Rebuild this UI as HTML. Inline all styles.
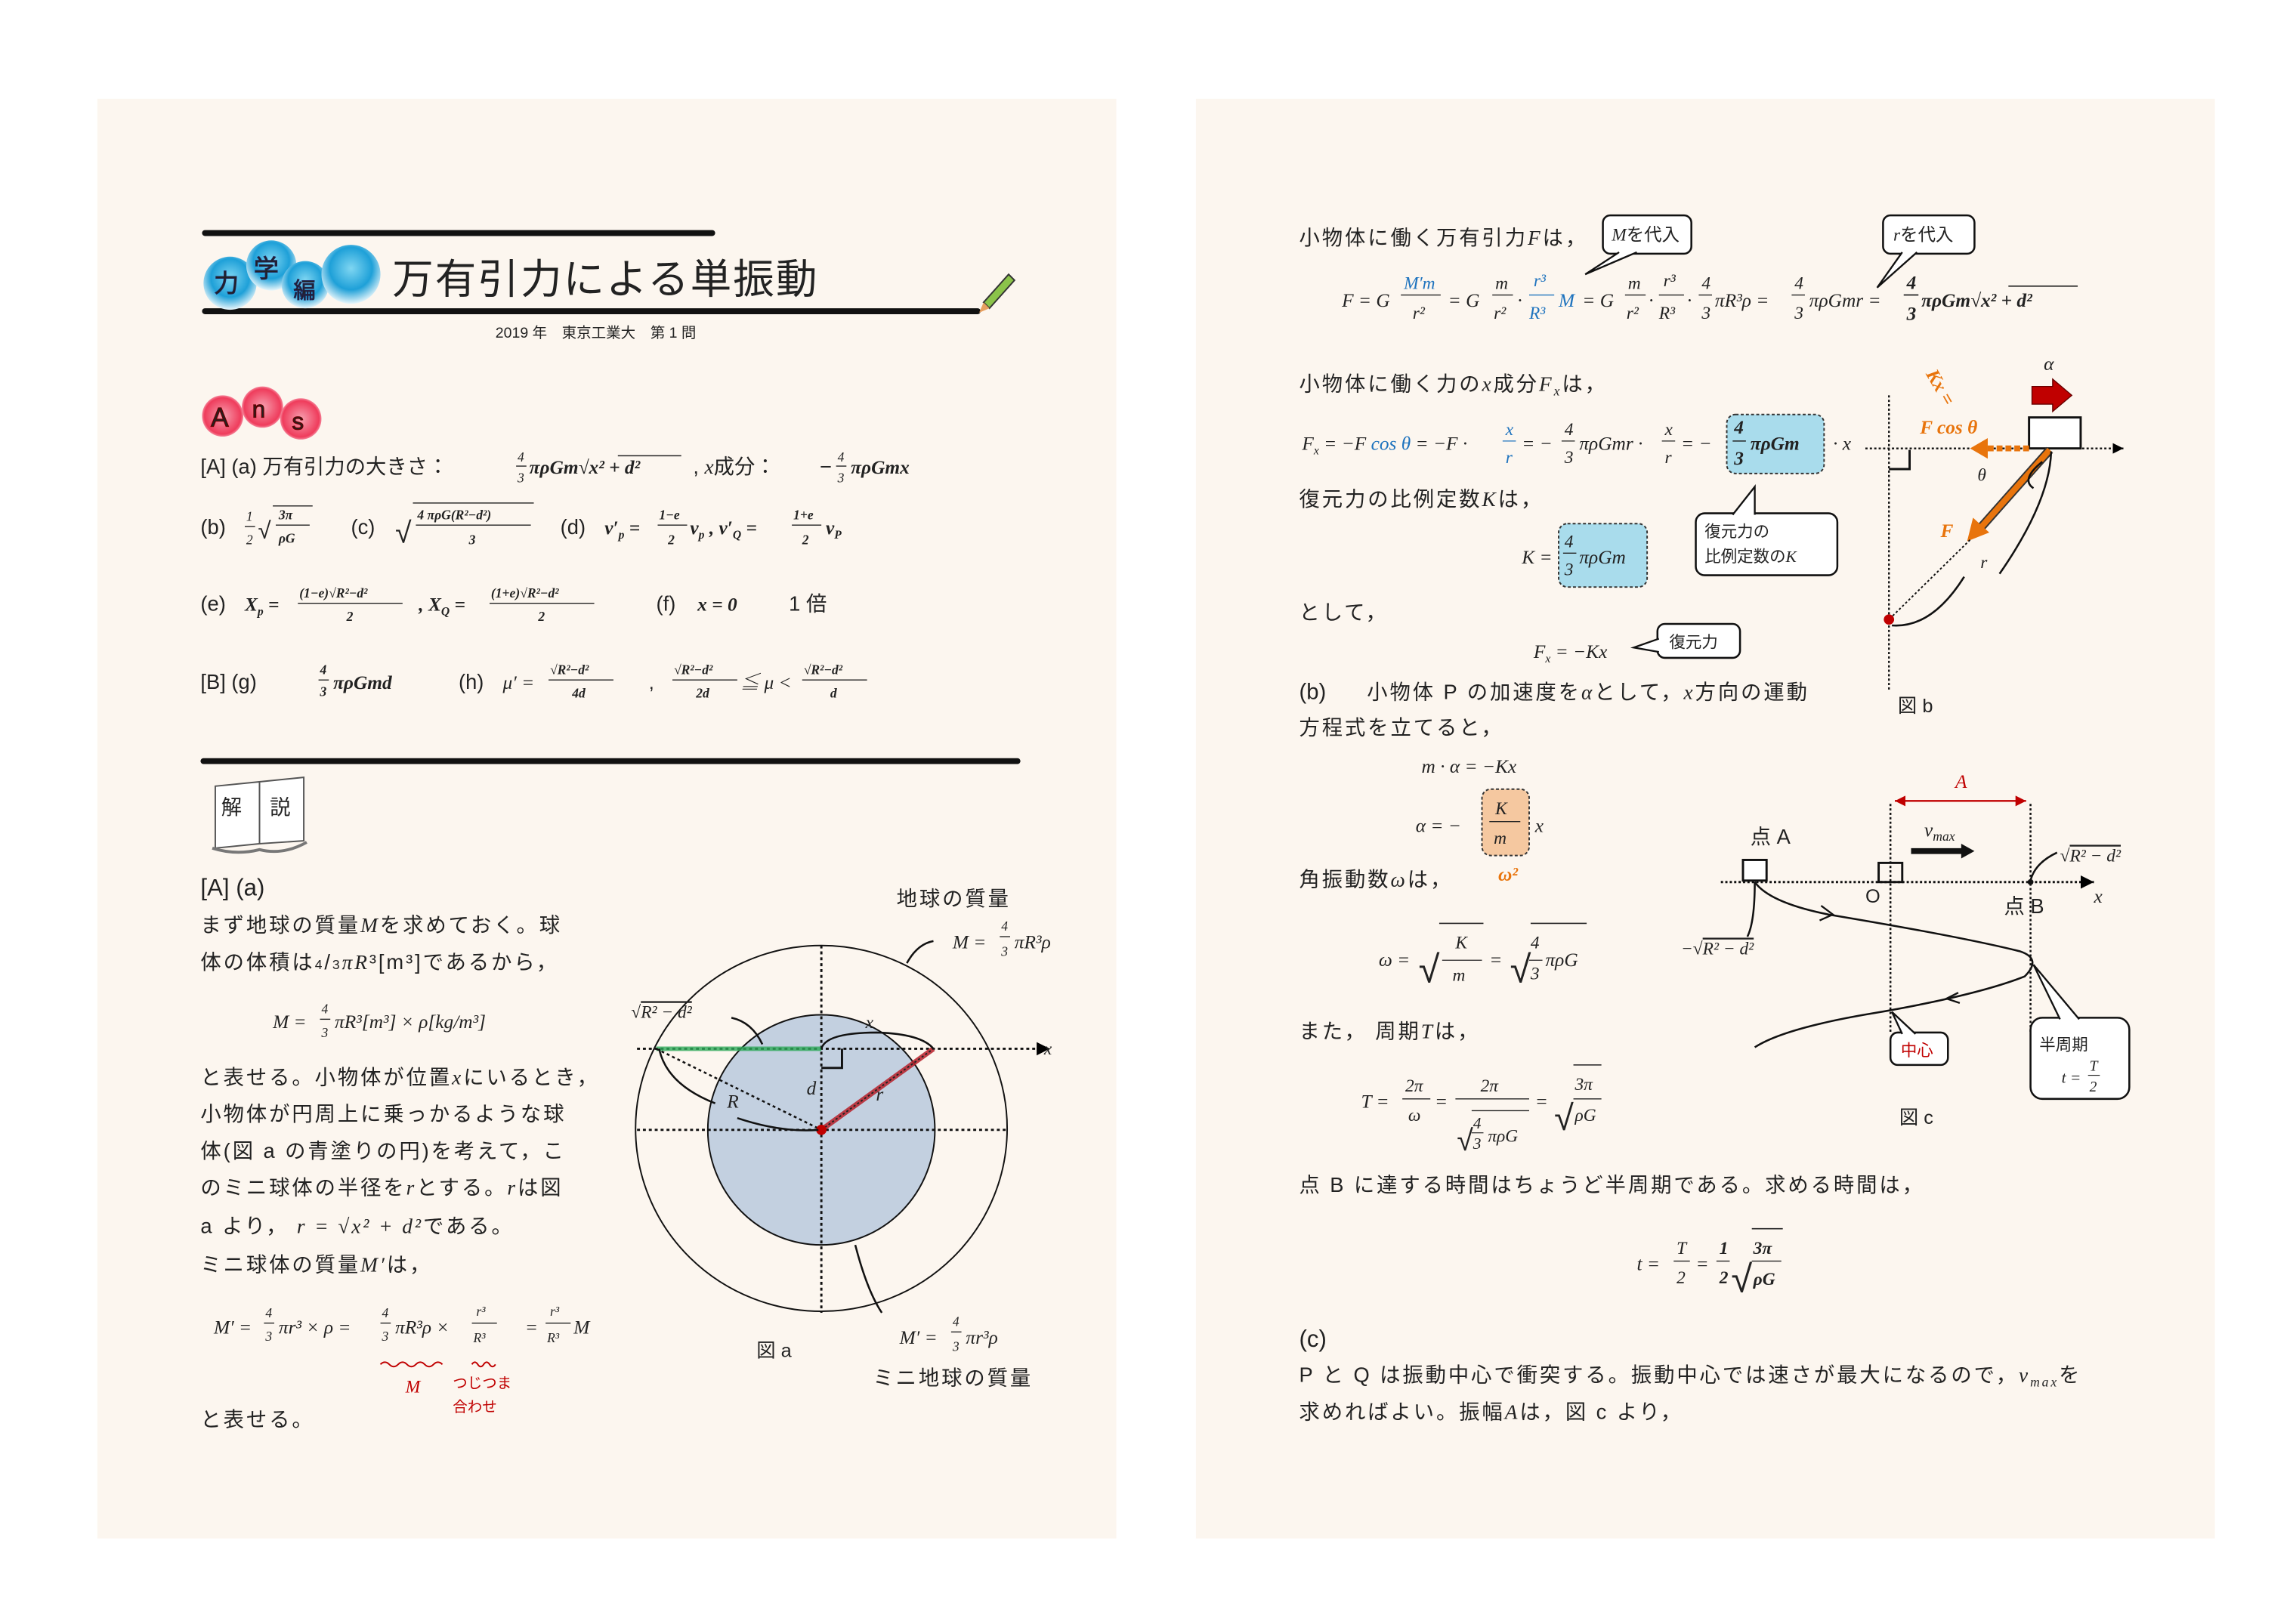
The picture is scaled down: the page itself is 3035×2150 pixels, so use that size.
<!DOCTYPE html>
<html><head><meta charset="utf-8">
<style>
html,body{margin:0;padding:0;background:#fff;}
svg{display:block;}
text{font-family:"Liberation Sans","Noto Sans CJK JP",sans-serif;fill:#222;}
.m{font-family:"Liberation Serif","Noto Serif CJK SC",serif;font-style:italic;}
.b{font-weight:bold;}
.j{font-size:14px;letter-spacing:1.5px;}
.s{font-size:9px;}
.bl{fill:#1e73be;}
.or{fill:#e8740c;}
.rd{fill:#c00000;}
</style></head>
<body>
<svg width="3035" height="2150" viewBox="0 0 1555 1101" preserveAspectRatio="none" xmlns="http://www.w3.org/2000/svg">
<defs>
<radialGradient id="gb" cx="50%" cy="40%" r="60%"><stop offset="0" stop-color="#7fd6f2"/><stop offset="0.6" stop-color="#1ea0d8"/><stop offset="1" stop-color="#e8f6fb"/></radialGradient>
<radialGradient id="gp" cx="50%" cy="50%" r="55%"><stop offset="0" stop-color="#f7a0b0"/><stop offset="0.8" stop-color="#ef3c5c"/><stop offset="1" stop-color="#f9c0cc"/></radialGradient>
<marker id="ar" markerWidth="8" markerHeight="8" refX="6" refY="3" orient="auto"><path d="M0,0 L6,3 L0,6z" fill="#000"/></marker>
<marker id="arr" markerWidth="8" markerHeight="8" refX="6" refY="3" orient="auto-start-reverse"><path d="M0,0 L6,3 L0,6z" fill="#c00000"/></marker>
</defs>
<rect width="1555" height="1101" fill="#fff"/>
<rect x="66" y="67" width="691" height="976" fill="#fcf6ef"/>
<rect x="811" y="67" width="691" height="976" fill="#fcf6ef"/>

<!-- title -->
<rect x="137" y="156" width="348" height="4" rx="2" fill="#111"/>
<rect x="137" y="209" width="528" height="4" rx="2" fill="#111"/>
<circle cx="156" cy="192" r="18" fill="url(#gb)"/>
<circle cx="184" cy="180" r="17" fill="url(#gb)"/>
<circle cx="207" cy="193" r="16" fill="url(#gb)"/>
<circle cx="238" cy="186" r="20" fill="url(#gb)"/>
<text x="145" y="198" font-size="17" fill="#fff" stroke="#225" stroke-width="0.5">力</text>
<text x="172" y="188" font-size="17" fill="#fff" stroke="#225" stroke-width="0.5">学</text>
<text x="199" y="202" font-size="15" fill="#fff" stroke="#225" stroke-width="0.5">編</text>
<text x="266" y="199" font-size="28" fill="#333" style="letter-spacing:1px">万有引力による単振動</text>
<path d="M667,205 L684,186 L688,190 L671,209 Z" fill="#8bc34a" stroke="#333" stroke-width="1"/>
<path d="M667,205 L664,212 L671,209Z" fill="#e8a060"/>
<text x="336" y="229" font-size="10">2019 年　東京工業大　第 1 問</text>

<!-- Ans -->
<circle cx="151" cy="282" r="14" fill="url(#gp)"/>
<circle cx="178" cy="276" r="14" fill="url(#gp)"/>
<circle cx="204" cy="284" r="14" fill="url(#gp)"/>
<text x="143" y="289" font-size="18" fill="#fff" stroke="#600" stroke-width="0.6">A</text>
<text x="171" y="283" font-size="16" fill="#fff" stroke="#600" stroke-width="0.6">n</text>
<text x="198" y="291" font-size="16" fill="#fff" stroke="#600" stroke-width="0.6">s</text>

<text x="136" y="321" font-size="14">[A]  (a)  万有引力の大きさ：</text>
<text x="351" y="313" class="m s">4</text><line x1="350" y1="316" x2="357" y2="316" stroke="#222" stroke-width="0.7"/><text x="351" y="327" class="m s">3</text>
<text x="359" y="321" class="m b" font-size="13">πρGm√x² + d²</text>
<line x1="419" y1="309" x2="462" y2="309" stroke="#222" stroke-width="0.8"/>
<text x="470" y="321" font-size="14">,  <tspan class="m">x</tspan>成分：</text>
<text x="556" y="321" font-size="14">−</text>
<text x="568" y="313" class="m s">4</text><line x1="567" y1="316" x2="574" y2="316" stroke="#222" stroke-width="0.7"/><text x="568" y="327" class="m s">3</text>
<text x="577" y="321" class="m b" font-size="13">πρGmx</text>

<text x="136" y="362" font-size="14">(b)</text>
<text x="167" y="353" class="m s">1</text><line x1="166" y1="357" x2="173" y2="357" stroke="#222" stroke-width="0.7"/><text x="167" y="369" class="m s">2</text>
<text x="175" y="365" font-size="16">√</text><line x1="185" y1="343" x2="212" y2="343" stroke="#222" stroke-width="0.7"/>
<text x="189" y="352" class="m b s">3π</text><line x1="187" y1="356" x2="210" y2="356" stroke="#222" stroke-width="0.7"/><text x="189" y="368" class="m b s">ρG</text>
<text x="238" y="362" font-size="14">(c)</text>
<text x="268" y="368" font-size="20">√</text><line x1="280" y1="341" x2="362" y2="341" stroke="#222" stroke-width="0.7"/>
<text x="283" y="352" class="m b s">4 πρG(R²−d²)</text><line x1="282" y1="356" x2="360" y2="356" stroke="#222" stroke-width="0.7"/><text x="318" y="369" class="m b s">3</text>
<text x="380" y="362" font-size="14">(d)</text>
<text x="410" y="362" class="m b" font-size="13">v′<tspan font-size="8" dy="3">p</tspan><tspan dy="-3"> = </tspan></text>
<text x="447" y="352" class="m b s">1−e</text><line x1="446" y1="356" x2="466" y2="356" stroke="#222" stroke-width="0.7"/><text x="453" y="369" class="m b s">2</text>
<text x="468" y="362" class="m b" font-size="13">v<tspan font-size="8" dy="3">p</tspan><tspan dy="-3">  ,  v′</tspan><tspan font-size="8" dy="3">Q</tspan><tspan dy="-3"> = </tspan></text>
<text x="538" y="352" class="m b s">1+e</text><line x1="537" y1="356" x2="557" y2="356" stroke="#222" stroke-width="0.7"/><text x="544" y="369" class="m b s">2</text>
<text x="560" y="362" class="m b" font-size="13">v<tspan font-size="8" dy="3">P</tspan></text>

<text x="136" y="414" font-size="14">(e)</text>
<text x="166" y="414" class="m b" font-size="13">X<tspan font-size="8" dy="3">p</tspan><tspan dy="-3"> =</tspan></text>
<text x="203" y="405" class="m b s">(1−e)√R²−d²</text><line x1="202" y1="409" x2="273" y2="409" stroke="#222" stroke-width="0.7"/><text x="235" y="421" class="m b s">2</text>
<text x="284" y="414" class="m b" font-size="13">,  X<tspan font-size="8" dy="3">Q</tspan><tspan dy="-3"> =</tspan></text>
<text x="333" y="405" class="m b s">(1+e)√R²−d²</text><line x1="332" y1="409" x2="403" y2="409" stroke="#222" stroke-width="0.7"/><text x="365" y="421" class="m b s">2</text>
<text x="445" y="414" font-size="14">(f)</text>
<text x="473" y="414" class="m b" font-size="13">x = 0</text>
<text x="535" y="414" font-size="14">1 倍</text>

<text x="136" y="467" font-size="14">[B]    (g)</text>
<text x="217" y="457" class="m b s">4</text><line x1="216" y1="461" x2="223" y2="461" stroke="#222" stroke-width="0.7"/><text x="217" y="472" class="m b s">3</text>
<text x="226" y="467" class="m b" font-size="13">πρGmd</text>
<text x="311" y="467" font-size="14">(h)</text>
<text x="341" y="467" class="m" font-size="13">μ′ =</text>
<text x="373" y="457" class="m b s">√R²−d²</text><line x1="372" y1="461" x2="416" y2="461" stroke="#222" stroke-width="0.7"/><text x="388" y="473" class="m b s">4d</text>
<text x="440" y="467" font-size="13">,</text>
<text x="457" y="457" class="m b s">√R²−d²</text><line x1="456" y1="461" x2="500" y2="461" stroke="#222" stroke-width="0.7"/><text x="472" y="473" class="m b s">2d</text>
<text x="502" y="467" class="m" font-size="13">≦ μ &lt;</text>
<text x="545" y="457" class="m b s">√R²−d²</text><line x1="544" y1="461" x2="588" y2="461" stroke="#222" stroke-width="0.7"/><text x="563" y="473" class="m b s">d</text>

<rect x="136" y="514" width="556" height="4" rx="2" fill="#111"/>

<!-- 解説 book -->
<path d="M146,533 L176,530 L176,572 L146,575Z" fill="#fff" stroke="#555"/>
<path d="M176,530 L206,527 L206,570 L176,572Z" fill="#fff" stroke="#555"/>
<path d="M144,575 Q160,580 176,576 Q192,580 208,571" fill="none" stroke="#777" stroke-width="2"/>
<text x="150" y="552" font-size="14">解</text>
<text x="183" y="552" font-size="14">説</text>

<text x="136" y="607" font-size="16">[A]    (a)</text>
<text x="136" y="632" class="j">まず地球の質量<tspan class="m">M</tspan>を求めておく。球</text>
<text x="136" y="657" class="j">体の体積は<tspan class="s">4</tspan>/<tspan class="s">3</tspan><tspan class="m">πR</tspan>³[m³]であるから，</text>
<text x="185" y="697" class="m" font-size="13">M =</text>
<text x="218" y="687" class="m s">4</text><line x1="217" y1="691" x2="224" y2="691" stroke="#222" stroke-width="0.7"/><text x="218" y="703" class="m s">3</text>
<text x="227" y="697" class="m" font-size="13">πR³[m³] × ρ[kg/m³]</text>
<text x="136" y="735" class="j">と表せる。小物体が位置<tspan class="m">x</tspan>にいるとき，</text>
<text x="136" y="760" class="j">小物体が円周上に乗っかるような球</text>
<text x="136" y="785" class="j">体(図 a の青塗りの円)を考えて，こ</text>
<text x="136" y="810" class="j">のミニ球体の半径を<tspan class="m">r</tspan>とする。<tspan class="m">r</tspan>は図</text>
<text x="136" y="836" class="j">a より，  <tspan class="m">r = √x² + d²</tspan>である。</text>
<text x="136" y="862" class="j">ミニ球体の質量<tspan class="m">M′</tspan>は，</text>
<text x="145" y="904" class="m" font-size="13">M′ =</text>
<text x="180" y="893" class="m s">4</text><line x1="179" y1="897" x2="186" y2="897" stroke="#222" stroke-width="0.7"/><text x="180" y="909" class="m s">3</text>
<text x="189" y="904" class="m" font-size="13">πr³ × ρ =</text>
<text x="259" y="893" class="m s">4</text><line x1="258" y1="897" x2="265" y2="897" stroke="#222" stroke-width="0.7"/><text x="259" y="909" class="m s">3</text>
<text x="268" y="904" class="m" font-size="13">πR³ρ ×</text>
<text x="323" y="892" class="m s">r³</text><line x1="320" y1="897" x2="337" y2="897" stroke="#222" stroke-width="0.7"/><text x="321" y="910" class="m s">R³</text>
<text x="356" y="904" class="m" font-size="13">=</text>
<text x="373" y="892" class="m s">r³</text><line x1="370" y1="897" x2="387" y2="897" stroke="#222" stroke-width="0.7"/><text x="371" y="910" class="m s">R³</text>
<text x="389" y="904" class="m" font-size="13">M</text>
<path d="M258,925 q3,-3 6,0 t6,0 t6,0 t6,0 t6,0 t6,0 t6,0" fill="none" stroke="#c00000" stroke-width="1"/>
<path d="M320,925 q2,-3 4,0 t4,0 t4,0 t4,0" fill="none" stroke="#c00000" stroke-width="1"/>
<text x="275" y="944" class="m rd" font-size="12">M</text>
<text x="307" y="941" font-size="10" class="rd">つじつま</text>
<text x="307" y="957" font-size="10" class="rd">合わせ</text>
<text x="136" y="967" class="j">と表せる。</text>

<!-- figure a -->
<ellipse cx="557" cy="765" rx="126" ry="124" fill="none" stroke="#111" stroke-width="1"/>
<ellipse cx="557" cy="766" rx="77" ry="78" fill="#c3d0e0" stroke="#111" stroke-width="1"/>
<line x1="432" y1="711" x2="712" y2="711" stroke="#111" stroke-width="1.5" stroke-dasharray="2,2" marker-end="url(#ar)"/>
<line x1="432" y1="766" x2="683" y2="766" stroke="#111" stroke-width="1.5" stroke-dasharray="2,2"/>
<line x1="557" y1="641" x2="557" y2="890" stroke="#111" stroke-width="1.5" stroke-dasharray="2,2"/>
<line x1="445" y1="711" x2="557" y2="711" stroke="#2eaa5a" stroke-width="3" opacity="0.8"/>
<line x1="557" y1="766" x2="633" y2="711" stroke="#b8202a" stroke-width="3.5" opacity="0.85"/>
<line x1="557" y1="766" x2="633" y2="711" stroke="#222" stroke-width="1" stroke-dasharray="1.5,1.5"/>
<line x1="445" y1="711" x2="557" y2="766" stroke="#111" stroke-width="1.3" stroke-dasharray="2,2"/>
<path d="M557,724 L571,724 L571,711" fill="none" stroke="#111" stroke-width="1.5"/>
<circle cx="557" cy="766" r="3.5" fill="#c00000"/>
<path d="M557,711 Q560,700 595,700 Q625,701 633,711" fill="none" stroke="#111" stroke-width="1.3"/>
<path d="M447,711 Q452,735 485,748" fill="none" stroke="#111" stroke-width="1.3"/>
<path d="M496,690 Q510,693 517,708" fill="none" stroke="#111" stroke-width="1.3"/>
<path d="M500,758 Q530,768 555,766" fill="none" stroke="#111" stroke-width="1.3"/>
<path d="M615,653 Q622,640 633,638" fill="none" stroke="#111" stroke-width="1.3"/>
<path d="M580,844 Q588,875 598,890" fill="none" stroke="#111" stroke-width="1.3"/>
<text x="428" y="690" class="m" font-size="12">√<tspan text-decoration="overline">R² − d²</tspan></text>
<text x="587" y="697" class="m" font-size="12">x</text>
<text x="547" y="742" class="m" font-size="13">d</text>
<text x="594" y="746" class="m" font-size="13">r</text>
<text x="493" y="751" class="m" font-size="13">R</text>
<text x="708" y="715" class="m" font-size="12">x</text>
<text x="608" y="614" class="j">地球の質量</text>
<text x="646" y="643" class="m" font-size="13">M =</text>
<text x="679" y="631" class="m s">4</text><line x1="678" y1="635" x2="685" y2="635" stroke="#222" stroke-width="0.7"/><text x="679" y="648" class="m s">3</text>
<text x="688" y="643" class="m" font-size="13">πR³ρ</text>
<text x="610" y="911" class="m" font-size="13">M′ =</text>
<text x="646" y="899" class="m s">4</text><line x1="645" y1="903" x2="652" y2="903" stroke="#222" stroke-width="0.7"/><text x="646" y="916" class="m s">3</text>
<text x="655" y="911" class="m" font-size="13">πr³ρ</text>
<text x="513" y="920" font-size="13">図 a</text>
<text x="592" y="939" class="j">ミニ地球の質量</text>

<!-- right page -->
<text x="881" y="166" class="j">小物体に働く万有引力<tspan class="m">F</tspan>は，</text>
<rect x="1087" y="146" width="60" height="26" rx="5" fill="#fff" stroke="#111" stroke-width="1.3"/>
<path d="M1098,171 L1075,186 L1110,171" fill="#fff" stroke="#111" stroke-width="1.2"/>
<text x="1093" y="163" font-size="12"><tspan class="m">M</tspan>を代入</text>
<rect x="1277" y="146" width="62" height="26" rx="5" fill="#fff" stroke="#111" stroke-width="1.3"/>
<path d="M1290,171 L1273,195 L1300,171" fill="#fff" stroke="#111" stroke-width="1.2"/>
<text x="1284" y="163" font-size="12"><tspan class="m">r</tspan>を代入</text>

<g class="m" font-size="13">
<text x="910" y="208" class="m">F = G</text>
<text x="952" y="196" class="m bl" font-size="12">M′m</text><line x1="950" y1="200" x2="977" y2="200" stroke="#222" stroke-width="0.7"/><text x="958" y="216" class="m" font-size="12">r²</text>
<text x="982" y="208" class="m">= G</text>
<text x="1014" y="196" class="m" font-size="12">m</text><line x1="1012" y1="200" x2="1026" y2="200" stroke="#222" stroke-width="0.7"/><text x="1013" y="216" class="m" font-size="12">r²</text>
<text x="1029" y="208" class="m">·</text>
<text x="1040" y="194" class="m bl" font-size="12">r³</text><line x1="1037" y1="200" x2="1054" y2="200" stroke="#1e73be" stroke-width="0.7"/><text x="1037" y="216" class="m bl" font-size="12">R³</text>
<text x="1057" y="208" class="m bl">M</text><text x="1073" y="208" class="m">= G</text>
<text x="1104" y="196" class="m" font-size="12">m</text><line x1="1102" y1="200" x2="1116" y2="200" stroke="#222" stroke-width="0.7"/><text x="1103" y="216" class="m" font-size="12">r²</text>
<text x="1118" y="208" class="m">·</text>
<text x="1128" y="194" class="m" font-size="12">r³</text><line x1="1125" y1="200" x2="1142" y2="200" stroke="#222" stroke-width="0.7"/><text x="1125" y="216" class="m" font-size="12">R³</text>
<text x="1144" y="208" class="m">·</text>
<text x="1154" y="196" class="m" font-size="12">4</text><line x1="1152" y1="200" x2="1161" y2="200" stroke="#222" stroke-width="0.7"/><text x="1154" y="216" class="m" font-size="12">3</text>
<text x="1163" y="208" class="m">πR³ρ =</text>
<text x="1217" y="196" class="m" font-size="12">4</text><line x1="1215" y1="200" x2="1224" y2="200" stroke="#222" stroke-width="0.7"/><text x="1217" y="216" class="m" font-size="12">3</text>
<text x="1227" y="208" class="m">πρGmr =</text>
<text x="1293" y="196" class="m b" font-size="13">4</text><line x1="1291" y1="200" x2="1301" y2="200" stroke="#222" stroke-width="0.9"/><text x="1293" y="217" class="m b" font-size="13">3</text>
<text x="1303" y="208" class="m b">πρGm√x² + d²</text>
<line x1="1362" y1="194" x2="1409" y2="194" stroke="#222" stroke-width="0.8"/>
</g>

<text x="881" y="265" class="j">小物体に働く力の<tspan class="m">x</tspan>成分<tspan class="m">F<tspan font-size="9" dy="3">x</tspan></tspan><tspan dy="-3">は，</tspan></text>
<rect x="1171" y="281" width="66" height="40" rx="6" fill="#a9dcec" stroke="#333" stroke-width="1" stroke-dasharray="2,1.5"/>
<text x="883" y="305" class="m" font-size="13">F<tspan font-size="8" dy="3">x</tspan><tspan dy="-3"> = −F </tspan><tspan class="bl">cos θ</tspan> = −F ·</text>
<text x="1021" y="295" class="m bl" font-size="12">x</text><line x1="1019" y1="299" x2="1028" y2="299" stroke="#1e73be" stroke-width="0.7"/><text x="1021" y="314" class="m bl" font-size="12">r</text>
<text x="1032" y="305" class="m" font-size="13">= −</text>
<text x="1061" y="295" class="m" font-size="12">4</text><line x1="1059" y1="299" x2="1068" y2="299" stroke="#222" stroke-width="0.7"/><text x="1061" y="314" class="m" font-size="12">3</text>
<text x="1071" y="305" class="m" font-size="13">πρGmr ·</text>
<text x="1129" y="295" class="m" font-size="12">x</text><line x1="1127" y1="299" x2="1136" y2="299" stroke="#222" stroke-width="0.7"/><text x="1129" y="314" class="m" font-size="12">r</text>
<text x="1140" y="305" class="m" font-size="13">= −</text>
<text x="1176" y="294" class="m b" font-size="13">4</text><line x1="1175" y1="299" x2="1184" y2="299" stroke="#222" stroke-width="0.8"/><text x="1176" y="315" class="m b" font-size="13">3</text>
<text x="1187" y="305" class="m b" font-size="13">πρGm</text>
<text x="1243" y="305" class="m" font-size="13">· x</text>

<text x="881" y="343" class="j">復元力の比例定数<tspan class="m">K</tspan>は，</text>
<rect x="1057" y="355" width="60" height="43" rx="6" fill="#a9dcec" stroke="#333" stroke-width="1" stroke-dasharray="2,1.5"/>
<text x="1032" y="382" class="m" font-size="13">K =</text>
<text x="1061" y="371" class="m" font-size="12">4</text><line x1="1060" y1="375" x2="1069" y2="375" stroke="#222" stroke-width="0.7"/><text x="1061" y="390" class="m" font-size="12">3</text>
<text x="1071" y="382" class="m" font-size="13">πρGm</text>
<rect x="1150" y="348" width="96" height="42" rx="6" fill="#fff" stroke="#111" stroke-width="1.3"/>
<path d="M1175,349 L1190,330 L1190,349" fill="#fff" stroke="#111" stroke-width="1.2"/>
<text x="1156" y="364" font-size="11">復元力の</text>
<text x="1156" y="381" font-size="11">比例定数の<tspan class="m">K</tspan></text>

<text x="881" y="420" class="j">として，</text>
<text x="1040" y="446" class="m" font-size="13">F<tspan font-size="8" dy="3">x</tspan><tspan dy="-3"> = −Kx</tspan></text>
<rect x="1124" y="423" width="56" height="23" rx="5" fill="#fff" stroke="#111" stroke-width="1.3"/>
<path d="M1125,433 L1108,439 L1125,442" fill="#fff" stroke="#111" stroke-width="1.2"/>
<text x="1132" y="439" font-size="11">復元力</text>

<text x="881" y="474" font-size="15">(b)</text>
<text x="927" y="474" class="j">小物体 P の加速度を<tspan class="m">α</tspan>として，<tspan class="m">x</tspan>方向の運動</text>
<text x="881" y="498" class="j">方程式を立てると，</text>

<!-- figure b -->
<line x1="1281" y1="268" x2="1281" y2="468" stroke="#111" stroke-width="1.2" stroke-dasharray="1.5,1.5"/>
<line x1="1265" y1="304" x2="1440" y2="304" stroke="#111" stroke-width="1.2" stroke-dasharray="1.5,1.5" marker-end="url(#ar)"/>
<path d="M1281,318 L1295,318 L1295,305" fill="none" stroke="#111" stroke-width="1.5"/>
<rect x="1376" y="283" width="35" height="21" fill="#fff" stroke="#111" stroke-width="1.5"/>
<path d="M1378,262 L1392,262 L1392,257 L1405,268 L1392,279 L1392,274 L1378,274Z" fill="#c00000" stroke="#600" stroke-width="0.7"/>
<text x="1386" y="251" class="m" font-size="13">α</text>
<line x1="1376" y1="304" x2="1346" y2="304" stroke="#e8740c" stroke-width="4" stroke-dasharray="4,2"/>
<path d="M1348,297 L1336,304 L1348,311Z" fill="#e8740c"/>
<line x1="1390" y1="305" x2="1343" y2="358" stroke="#333" stroke-width="6"/>
<line x1="1390" y1="305" x2="1343" y2="358" stroke="#e8740c" stroke-width="4"/>
<path d="M1334,367 L1338,351 L1349,361Z" fill="#e8740c"/>
<line x1="1336" y1="366" x2="1281" y2="420" stroke="#111" stroke-width="1" stroke-dasharray="1.5,1.5"/>
<circle cx="1281" cy="420" r="3.5" fill="#c00000"/>
<path d="M1283,424 Q1310,426 1332,391" fill="none" stroke="#111" stroke-width="1.3"/>
<path d="M1391,306 Q1390,340 1356,389" fill="none" stroke="#111" stroke-width="1.3"/>
<path d="M1385,313 Q1370,325 1379,331" fill="none" stroke="#111" stroke-width="1.3"/>
<text x="1341" y="326" class="m" font-size="12">θ</text>
<text x="1343" y="385" class="m" font-size="12">r</text>
<text x="1316" y="364" class="m b or" font-size="13">F</text>
<text x="1302" y="294" class="m b or" font-size="13">F cos θ</text>
<text x="1298" y="257" class="m b or" font-size="13" transform="rotate(60 1305 262)">Kx =</text>
<text x="1287" y="483" font-size="13">図 b</text>

<!-- (b) equations -->
<text x="964" y="524" class="m" font-size="13">m · α = −Kx</text>
<rect x="1005" y="535" width="32" height="45" rx="6" fill="#f5c8a0" stroke="#333" stroke-width="1" stroke-dasharray="2,1.5"/>
<text x="960" y="564" class="m" font-size="13">α = −</text>
<text x="1014" y="552" class="m" font-size="12">K</text><line x1="1010" y1="557" x2="1031" y2="557" stroke="#222" stroke-width="0.7"/><text x="1013" y="572" class="m" font-size="12">m</text>
<text x="1041" y="564" class="m" font-size="13">x</text>
<text x="1016" y="597" class="m b or" font-size="13">ω²</text>
<text x="881" y="601" class="j">角振動数<tspan class="m">ω</tspan>は，</text>
<text x="935" y="655" class="m" font-size="13">ω =</text>
<text x="962" y="666" font-size="26">√</text><line x1="976" y1="626" x2="1006" y2="626" stroke="#222" stroke-width="0.8"/>
<text x="987" y="643" class="m" font-size="12">K</text><line x1="978" y1="651" x2="1005" y2="651" stroke="#222" stroke-width="0.7"/><text x="985" y="665" class="m" font-size="12">m</text>
<text x="1010" y="655" class="m" font-size="13">=</text>
<text x="1024" y="666" font-size="26">√</text><line x1="1038" y1="626" x2="1076" y2="626" stroke="#222" stroke-width="0.8"/>
<text x="1038" y="643" class="m" font-size="12">4</text><line x1="1037" y1="651" x2="1046" y2="651" stroke="#222" stroke-width="0.7"/><text x="1038" y="664" class="m" font-size="12">3</text>
<text x="1048" y="655" class="m" font-size="13">πρG</text>

<text x="881" y="704" class="j">また，  周期<tspan class="m">T</tspan>は，</text>
<text x="923" y="751" class="m" font-size="13">T =</text>
<text x="953" y="740" class="m" font-size="12">2π</text><line x1="951" y1="745" x2="970" y2="745" stroke="#222" stroke-width="0.7"/><text x="955" y="760" class="m" font-size="12">ω</text>
<text x="973" y="751" class="m" font-size="13">=</text>
<text x="1004" y="740" class="m" font-size="12">2π</text><line x1="987" y1="745" x2="1037" y2="745" stroke="#222" stroke-width="0.7"/>
<text x="988" y="780" font-size="20">√</text><line x1="998" y1="753" x2="1037" y2="753" stroke="#222" stroke-width="0.7"/>
<text x="999" y="765" class="m" font-size="11">4</text><line x1="998" y1="768" x2="1006" y2="768" stroke="#222" stroke-width="0.6"/><text x="999" y="779" class="m" font-size="11">3</text>
<text x="1009" y="774" class="m" font-size="12">πρG</text>
<text x="1041" y="751" class="m" font-size="13">=</text>
<text x="1054" y="766" font-size="24">√</text><line x1="1067" y1="722" x2="1086" y2="722" stroke="#222" stroke-width="0.8"/>
<text x="1068" y="739" class="m" font-size="12">3π</text><line x1="1067" y1="745" x2="1086" y2="745" stroke="#222" stroke-width="0.7"/><text x="1068" y="760" class="m" font-size="12">ρG</text>

<text x="881" y="808" class="j">点 B に達する時間はちょうど半周期である。求める時間は，</text>
<text x="1110" y="861" class="m" font-size="13">t =</text>
<text x="1137" y="850" class="m" font-size="12">T</text><line x1="1135" y1="855" x2="1146" y2="855" stroke="#222" stroke-width="0.7"/><text x="1137" y="870" class="m" font-size="12">2</text>
<text x="1150" y="861" class="m" font-size="13">=</text>
<text x="1166" y="850" class="m b" font-size="12">1</text><line x1="1164" y1="855" x2="1173" y2="855" stroke="#222" stroke-width="0.7"/><text x="1166" y="870" class="m b" font-size="12">2</text>
<text x="1174" y="876" font-size="26">√</text><line x1="1188" y1="833" x2="1209" y2="833" stroke="#222" stroke-width="0.8"/>
<text x="1189" y="850" class="m b" font-size="12">3π</text><line x1="1188" y1="855" x2="1208" y2="855" stroke="#222" stroke-width="0.7"/><text x="1189" y="871" class="m b" font-size="12">ρG</text>

<text x="881" y="913" font-size="16">(c)</text>
<text x="881" y="937" class="j">P と Q は振動中心で衝突する。振動中心では速さが最大になるので，<tspan class="m">v<tspan font-size="9" dy="3">max</tspan></tspan><tspan dy="-3">を</tspan></text>
<text x="881" y="962" class="j">求めればよい。振幅<tspan class="m">A</tspan>は，図 c より，</text>

<!-- figure c -->
<line x1="1167" y1="598" x2="1420" y2="598" stroke="#111" stroke-width="1.5" stroke-dasharray="1.5,1.5" marker-end="url(#ar)"/>
<line x1="1282" y1="545" x2="1282" y2="700" stroke="#111" stroke-width="1.3" stroke-dasharray="1.5,1.5"/>
<line x1="1377" y1="545" x2="1377" y2="700" stroke="#111" stroke-width="1.3" stroke-dasharray="1.5,1.5"/>
<line x1="1285" y1="543" x2="1374" y2="543" stroke="#c00000" stroke-width="1.2" marker-start="url(#arr)" marker-end="url(#arr)"/>
<text x="1326" y="534" class="m rd" font-size="13">A</text>
<text x="1187" y="572" font-size="14">点 A</text>
<rect x="1182" y="583" width="16" height="14" fill="#fff" stroke="#111" stroke-width="1.5"/>
<rect x="1274" y="585" width="16" height="13" fill="none" stroke="#111" stroke-width="1.5"/>
<text x="1305" y="567" class="m" font-size="13">v<tspan font-size="9" dy="3">max</tspan></text>
<path d="M1296,575 L1330,575 L1330,572 L1339,577 L1330,582 L1330,579 L1296,579Z" fill="#111"/>
<text x="1265" y="612" font-size="13">O</text>
<text x="1359" y="619" font-size="14">点 B</text>
<text x="1420" y="612" class="m" font-size="13">x</text>
<circle cx="1377" cy="598" r="2" fill="#111"/>
<path d="M1377,597 Q1380,585 1395,578" fill="none" stroke="#111" stroke-width="1.3"/>
<text x="1397" y="584" class="m" font-size="12">√<tspan text-decoration="overline">R² − d²</tspan></text>
<path d="M1190,598 Q1190,625 1185,635" fill="none" stroke="#111" stroke-width="1.3"/>
<text x="1140" y="647" class="m" font-size="12">−√<tspan text-decoration="overline">R² − d²</tspan></text>
<path d="M1190,598 Q1200,612 1240,620 Q1330,635 1370,645 Q1385,650 1373,662 Q1340,675 1270,687 Q1210,697 1190,710" fill="none" stroke="#111" stroke-width="1.3"/>
<path d="M1235,614 L1243,620 L1234,624" fill="none" stroke="#111" stroke-width="1.2"/>
<path d="M1328,673 L1320,677 L1329,680" fill="none" stroke="#111" stroke-width="1.2"/>
<rect x="1282" y="700" width="39" height="22" rx="5" fill="#fff" stroke="#111" stroke-width="1.3"/>
<path d="M1290,701 L1283,686 L1299,701" fill="#fff" stroke="#111" stroke-width="1.2"/>
<text x="1289" y="716" font-size="11" class="rd">中心</text>
<rect x="1377" y="690" width="67" height="55" rx="8" fill="#fff" stroke="#111" stroke-width="1.3"/>
<path d="M1397,691 L1379,654 L1410,691" fill="#fff" stroke="#111" stroke-width="1.2"/>
<text x="1383" y="712" font-size="11">半周期</text>
<text x="1398" y="734" class="m" font-size="11">t =</text>
<text x="1417" y="726" class="m" font-size="10">T</text><line x1="1416" y1="729" x2="1424" y2="729" stroke="#222" stroke-width="0.6"/><text x="1417" y="740" class="m" font-size="10">2</text>
<text x="1288" y="762" font-size="13">図 c</text>
</svg>
</body></html>
